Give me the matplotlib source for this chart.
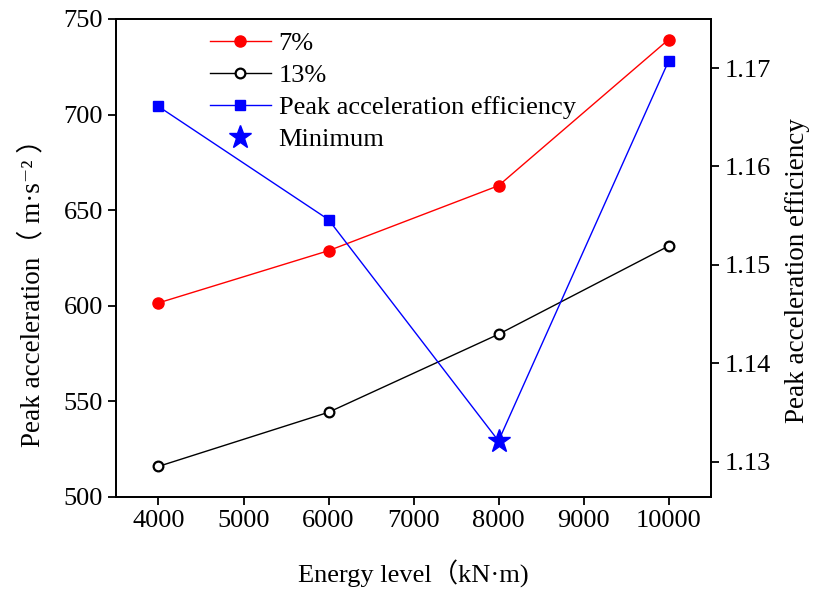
import matplotlib
matplotlib.use("Agg")
import matplotlib.pyplot as plt

plt.rcParams["font.family"] = ["Liberation Serif", "Noto Sans CJK SC", "DejaVu Serif"]
plt.rcParams["font.size"] = 19

# data
energy = [4000, 6000, 8000, 10000]
acc_7 = [601.5, 628.8, 662.8, 739.2]
acc_13 = [516.0, 544.3, 585.1, 631.2]
efficiency = [1.1661, 1.1546, 1.1321, 1.1707]
min_idx = 2

x_ticks = [4000, 5000, 6000, 7000, 8000, 9000, 10000]
left_ticks = [500, 550, 600, 650, 700, 750]
right_ticks = [1.13, 1.14, 1.15, 1.16, 1.17]

fig = plt.figure(figsize=(8.14, 5.92), dpi=100)
ax = fig.add_axes([0.1425, 0.1605, 0.731, 0.8075])
ax2 = ax.twinx()

l7, = ax.plot(energy, acc_7, color="red", lw=1.0, marker="o", ms=8, label="7%")
l13, = ax.plot(energy, acc_13, color="black", lw=1.0, marker="o", ms=7,
               mfc="white", mec="black", mew=1.6, label="13%")
eff_idx = [i for i in range(len(energy)) if i != min_idx]
leff, = ax2.plot(energy, efficiency, color="blue", lw=1.0, marker="s", ms=7.5,
                 markevery=eff_idx, label="Peak acceleration efficiency")
lmin, = ax2.plot([energy[min_idx]], [efficiency[min_idx]], ls="none", color="blue",
                 marker="*", ms=17, label="Minimum")

ax.set_xlim(3500, 10500)
ax.set_ylim(500, 750)
ax2.set_ylim(1.1264, 1.1750)
ax.set_xticks(x_ticks)
ax.set_yticks(left_ticks)
ax2.set_yticks(right_ticks)
ax2.set_yticklabels([f"{v:.2f}" for v in right_ticks])

for a in (ax, ax2):
    for s in a.spines.values():
        s.set_linewidth(1.3)
ax.tick_params(direction="out", length=6, width=1.3, top=False, right=False)
ax2.tick_params(direction="out", length=6, width=1.3)

ax.set_xlabel("Energy level（kN·m)", labelpad=20)
ax.set_ylabel("Peak acceleration（ m·s⁻² ）", fontsize=19.5)
ax.yaxis.set_label_coords(-0.118, 0.44)
ax2.set_ylabel("Peak acceleration efficiency", fontsize=19.5)
ax2.yaxis.set_label_coords(1.125, 0.474)

ax2.legend(handles=[l7, l13, leff, lmin], loc="upper left",
           bbox_to_anchor=(0.158, 0.974), frameon=False, borderpad=0,
           borderaxespad=0, handlelength=2.3, handletextpad=0.3,
           labelspacing=0.33, fontsize=19)

fig.savefig("out.png", dpi=100)
